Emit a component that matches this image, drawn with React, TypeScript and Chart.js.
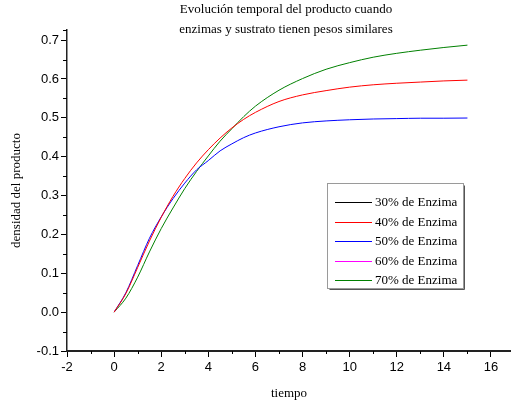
import React, { useEffect, useRef } from "react";
import { Chart, registerables } from "chart.js";

Chart.register(...registerables);

const TITLE_LINES = ["Evolución temporal del producto cuando", "enzimas y sustrato tienen pesos similares"];
const X_TITLE = "tiempo";
const Y_TITLE = "densidad del producto";

const SERIES_LABELS = ["30% de Enzima", "40% de Enzima", "50% de Enzima", "60% de Enzima", "70% de Enzima"];
const SERIES_COLORS = ["#000000", "#FF0000", "#0000FF", "#FF00FF", "#008000"];

const TIME = [0, 0.5, 1, 1.5, 2, 2.5, 3, 3.5, 4, 4.5, 5, 5.5, 6, 7, 8, 9, 10, 11, 12, 13, 14, 15];
const E30: number[] = [];
const E40 = [0, 0.048, 0.115, 0.183, 0.244, 0.298, 0.344, 0.384, 0.418, 0.448, 0.474, 0.496, 0.514, 0.542, 0.559, 0.570, 0.579, 0.585, 0.589, 0.592, 0.595, 0.597];
const E50 = [0, 0.05, 0.12, 0.19, 0.245, 0.292, 0.332, 0.366, 0.39, 0.415, 0.433, 0.449, 0.461, 0.477, 0.487, 0.492, 0.495, 0.497, 0.498, 0.499, 0.499, 0.4995];
const E60: number[] = [];
const E70 = [0, 0.036, 0.09, 0.155, 0.215, 0.268, 0.318, 0.362, 0.402, 0.44, 0.472, 0.503, 0.53, 0.571, 0.601, 0.625, 0.642, 0.656, 0.666, 0.674, 0.681, 0.687];
const SERIES = [E30, E40, E50, E60, E70];

const X_MIN = -2;
const X_MAX = 16.85;
const X_STEP = 2;
const Y_MIN = -0.1;
const Y_MAX = 0.726;
const Y_STEP = 0.1;

const SERIF = '"Liberation Serif", "Times New Roman", serif';
const SANS = '"Liberation Sans", Arial, sans-serif';

const decorPlugin = {
  id: "decor",
  afterDraw(chart: any) {
    const { ctx, chartArea, scales } = chart;
    const xs = scales.x;
    const ys = scales.y;
    ctx.save();
    // minor ticks
    ctx.strokeStyle = "#000";
    ctx.lineWidth = 1;
    ctx.beginPath();
    for (let v = X_MIN + X_STEP / 2; v < X_MAX; v += X_STEP) {
      const px = Math.round(xs.getPixelForValue(v)) + 0.5;
      ctx.moveTo(px, chartArea.bottom);
      ctx.lineTo(px, chartArea.bottom + 3);
    }
    for (let k = 0; ; k++) {
      const v = Y_MIN + Y_STEP / 2 + k * Y_STEP;
      if (v > Y_MAX) break;
      const py = Math.round(ys.getPixelForValue(v)) + 0.5;
      ctx.moveTo(chartArea.left - 4, py);
      ctx.lineTo(chartArea.left, py);
    }
    const pyTop = Math.round(ys.getPixelForValue(Y_MAX)) + 0.5;
    ctx.moveTo(chartArea.left - 4, pyTop);
    ctx.lineTo(chartArea.left, pyTop);
    ctx.stroke();

    // title
    ctx.fillStyle = "#000";
    ctx.font = `13px ${SERIF}`;
    ctx.textAlign = "center";
    ctx.textBaseline = "alphabetic";
    ctx.fillText(TITLE_LINES[0], 286, 13);
    ctx.fillText(TITLE_LINES[1], 286, 33);

    // legend
    const lx = 327.5, ly = 183.5, lw = 136, lh = 105;
    ctx.fillStyle = "#fff";
    ctx.fillRect(lx, ly, lw, lh);
    ctx.strokeStyle = "#9a9a9a";
    ctx.strokeRect(lx, ly, lw, lh);
    ctx.strokeStyle = "#555";
    ctx.beginPath();
    ctx.moveTo(lx + lw + 1, ly + 2);
    ctx.lineTo(lx + lw + 1, ly + lh + 1);
    ctx.lineTo(lx + 2, ly + lh + 1);
    ctx.stroke();
    ctx.font = `13px ${SERIF}`;
    ctx.textAlign = "left";
    ctx.textBaseline = "middle";
    chart.data.datasets.forEach((ds: any, i: number) => {
      const y = Math.round(202 + i * 19.5) + 0.5;
      ctx.strokeStyle = ds.borderColor;
      ctx.lineWidth = 1;
      ctx.beginPath();
      ctx.moveTo(335, y);
      ctx.lineTo(372, y);
      ctx.stroke();
      ctx.fillStyle = "#000";
      ctx.fillText(ds.label, 375, y + 0.5);
    });
    ctx.restore();
  },
};

export default function App() {
  const ref = useRef<HTMLCanvasElement>(null);
  useEffect(() => {
    document.body.style.margin = "0";
    const canvas = ref.current;
    if (!canvas) return;
    const chart = new Chart(canvas, {
      type: "line",
      data: {
        datasets: SERIES.map((vals, i) => ({
          label: SERIES_LABELS[i],
          data: vals.map((v, j) => ({ x: TIME[j], y: v })),
          borderColor: SERIES_COLORS[i],
          backgroundColor: SERIES_COLORS[i],
          borderWidth: 1,
          pointRadius: 0,
          fill: false,
          cubicInterpolationMode: "monotone" as const,
        })),
      },
      options: {
        animation: false,
        responsive: false,
        devicePixelRatio: 1,
        layout: { padding: { top: 30, right: 0, left: 0, bottom: 0 } },
        plugins: {
          legend: { display: false },
          title: { display: false },
          tooltip: { enabled: false },
        },
        scales: {
          x: {
            type: "linear",
            min: X_MIN,
            max: X_MAX,
            afterFit: (s: any) => {
              s.height = 57;
            },
            border: { display: true, color: "#222", width: 2 },
            grid: { display: true, drawOnChartArea: false, drawTicks: true, tickLength: 6, color: "#000" },
            ticks: {
              stepSize: X_STEP,
              includeBounds: false,
              autoSkip: false,
              maxRotation: 0,
              padding: 3,
              color: "#000",
              font: { family: SANS, size: 13 },
              callback: (v: any) => String(Math.round(Number(v))),
            },
            title: {
              display: true,
              text: X_TITLE,
              color: "#000",
              font: { family: SERIF, size: 13 },
              padding: { top: 0, bottom: 7 },
            },
          },
          y: {
            type: "linear",
            min: Y_MIN,
            max: Y_MAX,
            afterFit: (s: any) => {
              s.width = 67;
            },
            border: { display: true, color: "#222", width: 1.5 },
            grid: { display: true, drawOnChartArea: false, drawTicks: true, tickLength: 6, color: "#000" },
            ticks: {
              stepSize: Y_STEP,
              includeBounds: false,
              autoSkip: false,
              padding: 2,
              color: "#000",
              font: { family: SANS, size: 13 },
              callback: (v: any) => Number(v).toFixed(1),
            },
            title: {
              display: true,
              text: Y_TITLE,
              color: "#000",
              font: { family: SERIF, size: 13 },
              padding: { top: 9, bottom: 0 },
            },
          },
        },
      },
      plugins: [decorPlugin],
    });
    return () => chart.destroy();
  }, []);
  return <canvas ref={ref} width={511} height={408} style={{ display: "block" }} />;
}
